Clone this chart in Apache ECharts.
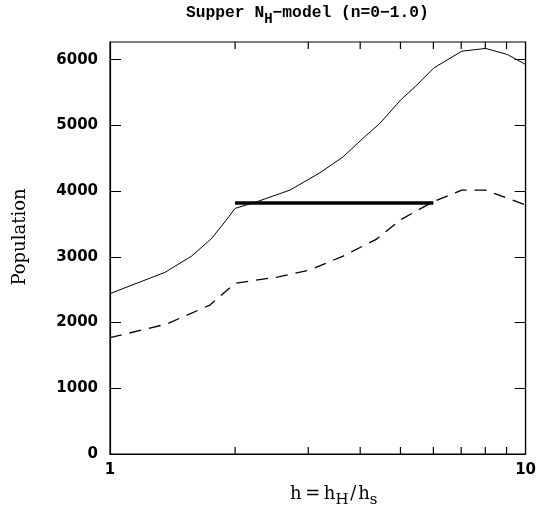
<!DOCTYPE html>
<html>
<head>
<meta charset="utf-8">
<script src="https://cdn.jsdelivr.net/npm/echarts@6/dist/echarts.min.js"></script>
<style>
  html, body { margin: 0; padding: 0; background: #fff; }
  #chart { width: 539px; height: 510px; }
</style>
</head>
<body>
<div id="chart"></div>
<script>
// Population vs. scale-height ratio h (log axis)
const solidH = [1, 1.087, 1.356, 1.572, 1.756, 1.899, 2.0, 2.253, 2.71, 3.2, 3.64, 4.06, 4.46, 5.02, 5.42, 6.02, 7.03, 8.02, 9.03, 10];
const solidPop = [2440, 2530, 2764, 3012, 3281, 3550, 3738, 3838, 4016, 4280, 4523, 4803, 5031, 5396, 5588, 5877, 6131, 6172, 6081, 5929];

const dashedH = [1, 1.369, 1.74, 2.0, 2.56, 3.02, 3.64, 4.37, 5.02, 5.99, 7.03, 8.0, 10];
const dashedPop = [1770, 1978, 2267, 2597, 2698, 2799, 3012, 3266, 3570, 3838, 4016, 4016, 3790];

const barH = [2, 6];
const barPop = [3820, 3820];

// intermediate log-decade ticks on the h axis, and population ticks
const xTickValues = [2, 3, 4, 5, 6, 7, 8, 9];
const yTickValues = [0, 1000, 2000, 3000, 4000, 5000, 6000];

const X_MIN = 1, X_MAX = 10, Y_MIN = 0, Y_MAX = 6270;
// inward length of the h-axis tick marks, in population units
const X_TICK_UNITS = 107;

const pairs = (xs, ys) => xs.map((x, i) => [x, ys[i]]);

const chart = echarts.init(document.getElementById('chart'), null, { renderer: 'canvas' });

function yAxisOf(position, withLabels) {
  return {
    type: 'value', min: Y_MIN, max: Y_MAX, interval: 1000, position: position,
    axisLine: { show: true, lineStyle: { color: '#000', width: 1.2 } },
    axisTick: { show: true, inside: true, length: 11, customValues: yTickValues.slice(), lineStyle: { color: '#000', width: 1 } },
    splitLine: { show: false },
    axisLabel: withLabels
      ? {
          show: true, margin: 12, fontFamily: 'DejaVu Sans', fontWeight: 'bold', fontSize: 15, color: '#000',
          formatter: v => (v % 1000 === 0 ? String(v) : '')
        }
      : { show: false }
  };
}

// short vertical strokes at each tick value, rising from the bottom edge and hanging from the top edge
const tickSeries = [];
xTickValues.forEach(v => {
  [[Y_MIN, Y_MIN + X_TICK_UNITS], [Y_MAX - X_TICK_UNITS, Y_MAX]].forEach(([a, b]) => {
    tickSeries.push({
      type: 'line', data: [[v, a], [v, b]], showSymbol: false, symbol: 'none', silent: true,
      lineStyle: { color: '#000', width: 1.2 }, clip: false
    });
  });
});

chart.setOption({
  animation: false,
  grid: { left: 110, right: 13, top: 42, bottom: 56, show: true, borderColor: '#000', borderWidth: 1.2, backgroundColor: 'transparent' },
  xAxis: [{
    type: 'log', min: X_MIN, max: X_MAX,
    axisLine: { show: true, onZero: false, lineStyle: { color: '#000', width: 1.2 } },
    axisTick: { show: false },
    splitLine: { show: false },
    axisLabel: {
      show: true, margin: 9, fontFamily: 'DejaVu Sans', fontWeight: 'bold', fontSize: 15, color: '#000',
      formatter: v => String(Math.round(v))
    }
  }],
  yAxis: [yAxisOf('left', true), yAxisOf('right', false)],
  series: tickSeries.concat([
    {
      type: 'line',
      data: pairs(solidH, solidPop), showSymbol: false, symbol: 'none',
      lineStyle: { color: '#000', width: 1 }
    },
    {
      type: 'line',
      data: pairs(dashedH, dashedPop), showSymbol: false, symbol: 'none',
      lineStyle: { color: '#000', width: 1.3, type: [12, 8] }
    },
    {
      type: 'line',
      data: pairs(barH, barPop), showSymbol: false, symbol: 'none',
      lineStyle: { color: '#000', width: 3.5, cap: 'butt' }
    }
  ]),
  graphic: [
    {
      type: 'text', left: 186, top: 5,
      style: {
        text: '{a|Supper N}{s|H}{a|\u2212model (n=0\u22121.0)}',
        rich: {
          a: { fontFamily: 'Liberation Mono', fontWeight: 'bold', fontSize: 16.3, color: '#000', verticalAlign: 'top' },
          s: { fontFamily: 'Liberation Mono', fontWeight: 'bold', fontSize: 14, color: '#000', verticalAlign: 'top', padding: [7, 0, 0, 0] }
        }
      }
    },
    {
      type: 'text', left: 290, top: 485,
      style: {
        text: '{a|h\u2009=\u2009h}{s|H}{a|\u200a/\u200ah}{s|s}',
        rich: {
          a: { fontFamily: 'DejaVu Serif', fontSize: 18, color: '#000', verticalAlign: 'top' },
          s: { fontFamily: 'DejaVu Serif', fontSize: 15, color: '#000', verticalAlign: 'top', padding: [8, 0, 0, 0] }
        }
      }
    },
    {
      type: 'text', x: 20, y: 237, rotation: Math.PI / 2,
      style: {
        text: 'Population', fontFamily: 'DejaVu Serif', fontSize: 18, fill: '#000',
        align: 'center', verticalAlign: 'middle'
      }
    }
  ]
});
</script>
</body>
</html>
